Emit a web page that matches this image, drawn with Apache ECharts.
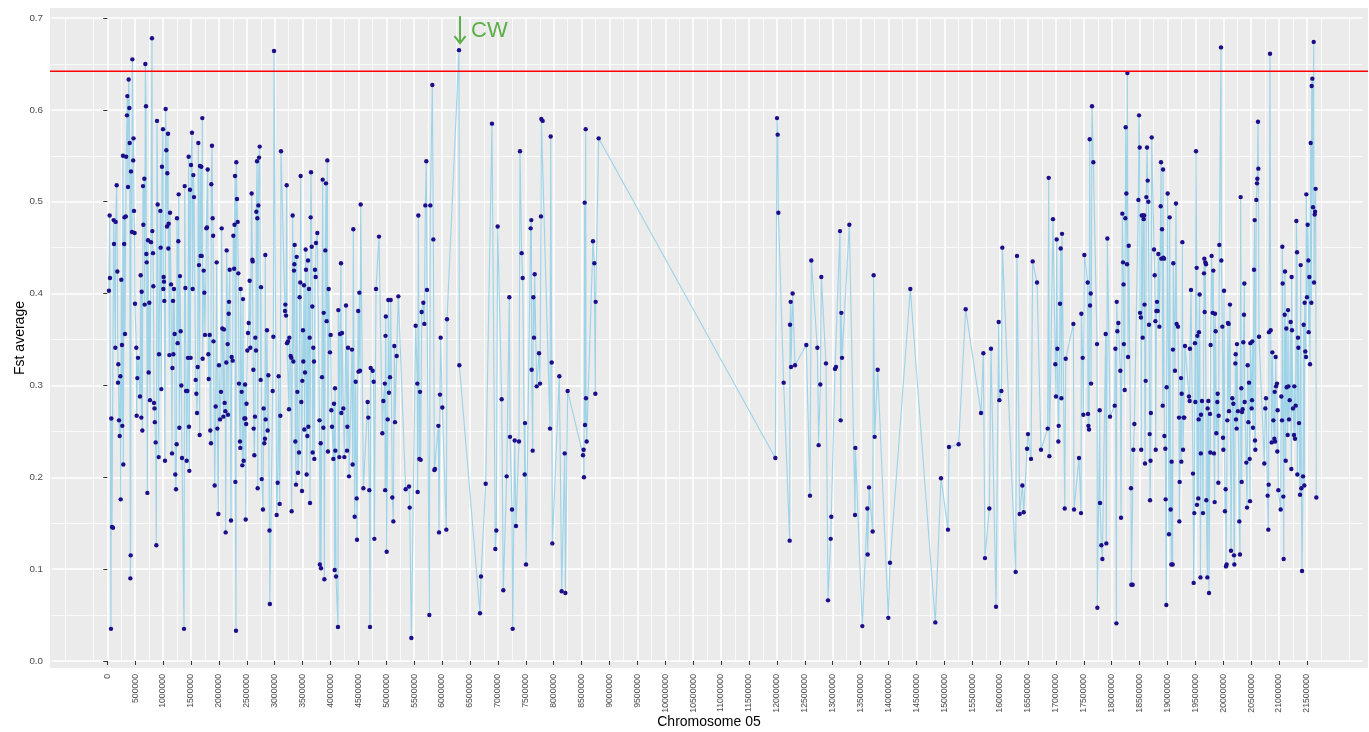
<!DOCTYPE html>
<html>
<head>
<meta charset="utf-8">
<script src="https://cdn.jsdelivr.net/npm/echarts@6/dist/echarts.min.js"></script>
<style>
  html, body { margin: 0; padding: 0; background: #ffffff; }
  #chart { width: 1369px; height: 732px; }
</style>
</head>
<body>
<div id="chart"></div>
<script>
// Windowed Fst average along chromosome 05: [position (bp), Fst average]
const fstSegment1 = [
  [30000,0.403],[42000,0.485],[48000,0.417],[66000,0.035],[72000,0.264],[84000,0.146],[102000,0.145],[114000,0.480],
  [120000,0.454],[144000,0.341],[150000,0.478],[168000,0.518],[180000,0.424],[192000,0.303],[198000,0.323],[210000,0.262],
  [222000,0.245],[234000,0.310],[240000,0.176],[251000,0.415],[263000,0.344],[269000,0.256],[281000,0.550],[287000,0.214],
  [302000,0.454],[308000,0.483],[317000,0.356],[332000,0.484],[338000,0.549],[353000,0.594],[359000,0.615],[371000,0.516],
  [383000,0.633],[395000,0.602],[401000,0.564],[413000,0.090],[419000,0.115],[425000,0.533],[443000,0.467],[449000,0.655],
  [464000,0.545],[470000,0.569],[478000,0.490],[490000,0.466],[496000,0.389],[520000,0.341],[526000,0.267],[538000,0.308],
  [550000,0.330],[586000,0.288],[598000,0.420],[610000,0.265],[616000,0.402],[628000,0.251],[640000,0.517],[646000,0.475],
  [664000,0.525],[670000,0.388],[682000,0.650],[694000,0.604],[700000,0.443],[706000,0.434],[718000,0.183],[730000,0.458],
  [741000,0.314],[753000,0.390],[765000,0.284],[783000,0.456],[801000,0.678],[807000,0.468],[819000,0.444],[825000,0.408],
  [837000,0.281],[846000,0.275],[852000,0.260],[867000,0.238],[879000,0.126],[891000,0.588],[903000,0.497],[921000,0.222],
  [927000,0.334],[951000,0.490],[956000,0.450],[968000,0.296],[980000,0.538],[998000,0.579],[1004000,0.405],[1010000,0.418],
  [1016000,0.413],[1022000,0.392],[1034000,0.218],[1046000,0.601],[1058000,0.556],[1070000,0.473],[1076000,0.531],[1088000,0.574],
  [1094000,0.449],[1100000,0.476],[1112000,0.333],[1124000,0.488],[1142000,0.410],[1160000,0.226],[1166000,0.319],[1178000,0.392],
  [1184000,0.334],[1195000,0.405],[1207000,0.356],[1219000,0.203],[1231000,0.187],[1243000,0.236],[1249000,0.482],[1261000,0.346],
  [1273000,0.457],[1279000,0.508],[1291000,0.254],[1303000,0.419],[1315000,0.359],[1327000,0.300],[1339000,0.221],[1375000,0.035],
  [1387000,0.517],[1399000,0.406],[1411000,0.294],[1423000,0.218],[1435000,0.294],[1446000,0.330],[1458000,0.549],[1464000,0.255],
  [1470000,0.207],[1482000,0.513],[1494000,0.330],[1500000,0.540],[1518000,0.575],[1530000,0.405],[1542000,0.529],[1554000,0.505]
];

const fstSegment2 = [
  [1584000,0.306],[1596000,0.291],[1608000,0.270],[1620000,0.320],[1631000,0.564],[1643000,0.431],[1655000,0.246],[1661000,0.539],
  [1673000,0.441],[1685000,0.538],[1691000,0.441],[1703000,0.591],[1709000,0.329],[1727000,0.425],[1739000,0.401],[1751000,0.355],
  [1775000,0.471],[1787000,0.472],[1799000,0.535],[1811000,0.334],[1817000,0.307],[1835000,0.355],[1846000,0.251],[1858000,0.237],
  [1864000,0.519],[1876000,0.561],[1888000,0.482],[1897000,0.463],[1903000,0.348],[1924000,0.191],[1942000,0.277],[1960000,0.434],
  [1972000,0.253],[1990000,0.160],[2002000,0.322],[2020000,0.263],[2038000,0.293],[2050000,0.471],[2062000,0.362],[2080000,0.266],
  [2091000,0.361],[2103000,0.281],[2115000,0.272],[2121000,0.140],[2133000,0.325],[2139000,0.447],[2157000,0.345],[2163000,0.268],
  [2175000,0.378],[2181000,0.391],[2193000,0.426],[2217000,0.153],[2229000,0.331],[2247000,0.327],[2259000,0.463],[2274000,0.427],
  [2280000,0.475],[2289000,0.528],[2295000,0.195],[2306000,0.033],[2312000,0.543],[2324000,0.503],[2336000,0.478],[2348000,0.422],
  [2360000,0.302],[2378000,0.239],[2384000,0.232],[2390000,0.405],[2408000,0.293],[2420000,0.213],[2432000,0.394],[2444000,0.218],
  [2456000,0.264],[2468000,0.301],[2474000,0.264],[2480000,0.154],[2489000,0.258],[2495000,0.280],[2510000,0.338],[2522000,0.357],
  [2534000,0.368],[2551000,0.414],[2563000,0.341],[2587000,0.509],[2599000,0.437],[2605000,0.435],[2617000,0.317],[2623000,0.253],
  [2635000,0.224],[2647000,0.266],[2653000,0.352],[2665000,0.338],[2671000,0.489],[2683000,0.544],[2689000,0.482],[2695000,0.188],
  [2707000,0.496],[2719000,0.548],[2731000,0.560],[2749000,0.306],[2755000,0.407],[2767000,0.198],[2790000,0.165],[2802000,0.275],
  [2814000,0.237],[2826000,0.242],[2832000,0.442],[2838000,0.263],[2862000,0.360],[2874000,0.251],[2886000,0.311],[2907000,0.142],
  [2913000,0.062],[2964000,0.294],[2976000,0.353],[2988000,0.664],[3035000,0.159],[3053000,0.194],[3071000,0.310],[3089000,0.171],
  [3101000,0.267],[3113000,0.555],[3185000,0.381],[3191000,0.388],[3203000,0.376],[3215000,0.518],[3221000,0.346],[3238000,0.348],
  [3256000,0.274],[3262000,0.352]
];

const fstSegment3 = [
  [3286000,0.332],[3298000,0.330],[3304000,0.163],[3322000,0.485],[3334000,0.326],[3346000,0.425],[3352000,0.432],[3358000,0.453],
  [3370000,0.239],[3382000,0.192],[3394000,0.440],[3406000,0.293],[3418000,0.205],[3436000,0.227],[3447000,0.396],[3459000,0.412],
  [3465000,0.528],[3477000,0.282],[3489000,0.185],[3495000,0.305],[3507000,0.360],[3513000,0.326],[3525000,0.409],[3531000,0.252],
  [3543000,0.314],[3555000,0.448],[3561000,0.426],[3573000,0.203],[3585000,0.245],[3597000,0.436],[3603000,0.255],[3615000,0.405],
  [3627000,0.352],[3633000,0.172],[3645000,0.483],[3651000,0.532],[3663000,0.451],[3674000,0.386],[3680000,0.227],[3692000,0.341],
  [3704000,0.326],[3710000,0.220],[3722000,0.426],[3734000,0.418],[3740000,0.455],[3764000,0.466],[3803000,0.262],[3809000,0.105],
  [3824000,0.237],[3830000,0.101],[3848000,0.309],[3860000,0.524],[3872000,0.254],[3878000,0.379],[3890000,0.089],[3907000,0.447],
  [3919000,0.520],[3931000,0.370],[3943000,0.545],[3955000,0.228],[3967000,0.405],[3991000,0.336],[4003000,0.355],[4015000,0.273],
  [4027000,0.255],[4051000,0.220],[4063000,0.280],[4075000,0.099],[4081000,0.297],[4087000,0.229],[4099000,0.092],[4134000,0.037],
  [4140000,0.382],[4158000,0.222],[4170000,0.356],[4188000,0.433],[4194000,0.270],[4206000,0.357],[4230000,0.275],[4248000,0.222],
  [4278000,0.387],[4296000,0.229],[4302000,0.255],[4314000,0.341],[4332000,0.201],[4385000,0.339],[4397000,0.214],[4409000,0.470],
  [4433000,0.157],[4451000,0.304],[4469000,0.177],[4475000,0.132],[4496000,0.381],[4502000,0.315],[4517000,0.401],[4529000,0.316],
  [4541000,0.497],[4589000,0.188],[4666000,0.282],[4678000,0.265],[4696000,0.186],[4708000,0.037],[4720000,0.319],[4756000,0.316],
  [4774000,0.304],[4786000,0.133],[4816000,0.405],[4869000,0.462],[4929000,0.248],[4947000,0.283]
];

const fstSegment4 = [
  [4974000,0.302],[4980000,0.186],[4986000,0.354],[4992000,0.375],[5007000,0.119],[5025000,0.263],[5036000,0.393],[5048000,0.292],
  [5066000,0.309],[5078000,0.393],[5108000,0.178],[5126000,0.152],[5144000,0.343],[5156000,0.260],[5186000,0.332],[5216000,0.397],
  [5347000,0.187],[5407000,0.190],[5419000,0.167],[5449000,0.025],[5526000,0.365],[5556000,0.302],[5562000,0.184],[5574000,0.485],
  [5592000,0.220],[5604000,0.293],[5616000,0.219],[5634000,0.380],[5664000,0.390],[5682000,0.367],[5700000,0.496],[5717000,0.544],
  [5729000,0.404],[5771000,0.050],[5789000,0.496],[5825000,0.627],[5843000,0.459],[5861000,0.208],[5873000,0.209],[5933000,0.256],
  [5945000,0.140],[5962000,0.290],[5974000,0.352],[6004000,0.276],[6076000,0.143],[6088000,0.372],[6303000,0.665],[6309000,0.322],
  [6679000,0.052],[6697000,0.092],[6781000,0.193],[6894000,0.585],[6954000,0.122],[6972000,0.142],[6996000,0.473],[7068000,0.285],
  [7097000,0.077],[7157000,0.201],[7205000,0.396],[7217000,0.244],[7253000,0.165],[7265000,0.035],[7301000,0.240],[7324000,0.147],
  [7378000,0.239],[7396000,0.555],[7426000,0.444],[7444000,0.417],[7480000,0.203],[7486000,0.259],[7504000,0.105],[7587000,0.471],
  [7599000,0.480],[7605000,0.317],[7623000,0.229],[7635000,0.396],[7647000,0.352],[7659000,0.421],[7695000,0.299],[7737000,0.335],
  [7755000,0.302],[7772000,0.484],[7778000,0.590],[7802000,0.588],[7934000,0.253],[7946000,0.571],[7964000,0.325],[7976000,0.128],
  [8101000,0.310],[8143000,0.076],[8197000,0.226],[8209000,0.074],[8250000,0.294],[8525000,0.224],[8537000,0.230],[8543000,0.200],
  [8555000,0.499],[8561000,0.257],[8573000,0.579],[8579000,0.286],[8591000,0.239],[8704000,0.457],[8728000,0.433],[8746000,0.291],
  [8752000,0.391],[8806000,0.569]
];

const fstSegment5 = [
  [11972000,0.221],[12002000,0.591],[12014000,0.573],[12026000,0.488],[12121000,0.303],[12229000,0.131],[12235000,0.366],[12247000,0.391],
  [12253000,0.320],[12282000,0.400],[12324000,0.322],[12527000,0.344],[12593000,0.180],[12617000,0.436],[12725000,0.341],[12748000,0.235],
  [12778000,0.301],[12796000,0.418],[12880000,0.324],[12916000,0.066],[12964000,0.133],[12975000,0.157],[13041000,0.318],[13059000,0.320],
  [13131000,0.468],[13143000,0.262],[13155000,0.379],[13167000,0.330],[13298000,0.475],[13400000,0.159],[13406000,0.232],[13531000,0.038],
  [13621000,0.166],[13627000,0.116],[13651000,0.189],[13716000,0.141],[13734000,0.420],[13752000,0.244],[13806000,0.317],[13997000,0.047],
  [14027000,0.107],[14391000,0.405],[14839000,0.042],[14941000,0.199],[15066000,0.143],[15084000,0.233],[15257000,0.236],[15383000,0.383],
  [15658000,0.270],[15700000,0.335],[15729000,0.112],[15807000,0.166],[15837000,0.340],[15927000,0.059],[15975000,0.369],[15987000,0.284],
  [16023000,0.294],[16040000,0.450],[16279000,0.097],[16303000,0.441],[16351000,0.160],[16399000,0.191],[16423000,0.162],[16483000,0.231],
  [16500000,0.247],[16554000,0.220],[16584000,0.435],[16662000,0.412],[16733000,0.230],[16853000,0.253],[16871000,0.526],[16883000,0.223],
  [16948000,0.481],[16990000,0.323],[17002000,0.288],[17014000,0.459],[17026000,0.340],[17044000,0.239],[17050000,0.256],[17074000,0.389],
  [17086000,0.449],[17098000,0.286],[17110000,0.465],[17158000,0.166],[17176000,0.329],[17313000,0.367],[17325000,0.165],[17414000,0.221],
  [17450000,0.161],[17456000,0.378],[17480000,0.330],[17492000,0.268],[17510000,0.442]
];

const fstSegment6 = [
  [17570000,0.412],[17576000,0.269],[17582000,0.256],[17594000,0.252],[17606000,0.568],[17612000,0.387],[17624000,0.400],[17630000,0.302],
  [17647000,0.604],[17671000,0.543],[17737000,0.345],[17743000,0.058],[17785000,0.273],[17791000,0.172],[17815000,0.126],[17833000,0.111],
  [17892000,0.356],[17904000,0.128],[17922000,0.460],[17970000,0.266],[18054000,0.278],[18066000,0.340],[18084000,0.041],[18090000,0.391],
  [18101000,0.359],[18119000,0.368],[18155000,0.316],[18167000,0.156],[18191000,0.487],[18203000,0.434],[18212000,0.410],[18218000,0.345],
  [18233000,0.295],[18245000,0.482],[18251000,0.581],[18263000,0.509],[18275000,0.432],[18281000,0.640],[18293000,0.331],[18305000,0.452],
  [18346000,0.188],[18352000,0.083],[18376000,0.083],[18388000,0.230],[18406000,0.258],[18478000,0.502],[18490000,0.594],[18502000,0.559],
  [18508000,0.379],[18523000,0.374],[18529000,0.230],[18538000,0.485],[18555000,0.352],[18567000,0.485],[18573000,0.481],[18582000,0.485],
  [18588000,0.388],[18597000,0.215],[18609000,0.305],[18621000,0.505],[18633000,0.559],[18645000,0.523],[18657000,0.500],[18669000,0.366],
  [18681000,0.247],[18687000,0.175],[18696000,0.218],[18702000,0.270],[18717000,0.570],[18759000,0.448],[18771000,0.420],[18783000,0.370],
  [18789000,0.230],[18801000,0.381],[18812000,0.391],[18824000,0.381],[18836000,0.443],[18854000,0.364],[18878000,0.495],[18884000,0.543],
  [18890000,0.438],[18902000,0.470],[18914000,0.278],[18920000,0.535],[18926000,0.439],[18938000,0.438],[18944000,0.245]
];

const fstSegment7 = [
  [18961000,0.231],[18967000,0.176],[18979000,0.061],[18985000,0.298],[19003000,0.509],[19027000,0.138],[19039000,0.483],[19057000,0.165],
  [19069000,0.105],[19074000,0.217],[19092000,0.105],[19098000,0.339],[19104000,0.433],[19134000,0.316],[19152000,0.498],[19164000,0.367],
  [19188000,0.364],[19206000,0.265],[19212000,0.152],[19218000,0.195],[19242000,0.308],[19248000,0.217],[19254000,0.291],[19266000,0.456],
  [19278000,0.230],[19290000,0.265],[19301000,0.265],[19313000,0.343],[19385000,0.288],[19397000,0.283],[19403000,0.340],[19421000,0.404],
  [19457000,0.204],[19469000,0.085],[19481000,0.161],[19493000,0.346],[19499000,0.282],[19511000,0.555],[19523000,0.428],[19529000,0.170],
  [19535000,0.354],[19552000,0.177],[19558000,0.263],[19564000,0.358],[19576000,0.399],[19591000,0.091],[19597000,0.226],[19600000,0.268],
  [19618000,0.283],[19636000,0.161],[19654000,0.422],[19660000,0.438],[19666000,0.380],[19678000,0.434],[19690000,0.432],[19696000,0.175],
  [19714000,0.091],[19720000,0.275],[19732000,0.283],[19744000,0.074],[19762000,0.269],[19768000,0.227],[19773000,0.344],[19791000,0.441],
  [19809000,0.379],[19821000,0.425],[19833000,0.226],[19845000,0.173],[19851000,0.378],[19863000,0.359],[19875000,0.248],[19893000,0.282],
  [19899000,0.291],[19911000,0.194],[19917000,0.267],[19929000,0.453],[19959000,0.668],[19965000,0.436],[19983000,0.364],[19995000,0.243],
  [20001000,0.230],[20013000,0.403],[20030000,0.163],[20042000,0.187],[20048000,0.103],[20060000,0.105],[20072000,0.262],[20084000,0.368],
  [20096000,0.367],[20102000,0.272],[20120000,0.388],[20138000,0.120],[20162000,0.286],[20180000,0.280],[20192000,0.115],[20198000,0.105],
  [20216000,0.324],[20222000,0.334],[20228000,0.263],[20239000,0.253],[20245000,0.345],[20263000,0.272],[20287000,0.152],[20299000,0.116],
  [20311000,0.505],[20323000,0.297],[20329000,0.195],[20335000,0.271],[20347000,0.274],[20359000,0.347],[20371000,0.377],[20377000,0.411],
  [20383000,0.282]
];

const fstSegment8 = [
  [20413000,0.216],[20425000,0.167],[20437000,0.322],[20449000,0.260],[20461000,0.303],[20473000,0.220],[20479000,0.174],[20485000,0.346],
  [20508000,0.275],[20514000,0.284],[20520000,0.348],[20532000,0.254],[20550000,0.426],[20562000,0.480],[20568000,0.240],[20574000,0.230],
  [20592000,0.502],[20604000,0.520],[20610000,0.525],[20622000,0.587],[20628000,0.536],[20640000,0.353],[20735000,0.215],[20753000,0.275],
  [20765000,0.286],[20795000,0.180],[20807000,0.143],[20813000,0.192],[20819000,0.358],[20837000,0.661],[20849000,0.360],[20867000,0.238],
  [20879000,0.336],[20897000,0.262],[20915000,0.242],[20921000,0.293],[20927000,0.239],[20939000,0.331],[20945000,0.299],[20962000,0.302],
  [20968000,0.228],[20974000,0.273],[20986000,0.186],[21028000,0.165],[21040000,0.288],[21052000,0.262],[21058000,0.451],[21064000,0.411],
  [21076000,0.179],[21082000,0.111],[21100000,0.377],[21106000,0.424],[21118000,0.218],[21130000,0.362],[21136000,0.298],[21154000,0.246],
  [21160000,0.382],[21166000,0.299],[21178000,0.263],[21190000,0.284],[21207000,0.369],[21219000,0.209],[21225000,0.418],[21231000,0.360],
  [21249000,0.275],[21267000,0.246],[21273000,0.299],[21285000,0.242],[21297000,0.278],[21309000,0.479],[21321000,0.445],[21327000,0.203],
  [21339000,0.352],[21345000,0.341],[21357000,0.259],[21375000,0.181],[21387000,0.431],[21399000,0.188],[21411000,0.098],[21429000,0.201],
  [21440000,0.366],[21452000,0.191],[21458000,0.390],[21470000,0.337],[21482000,0.331],[21488000,0.508],[21500000,0.396],[21512000,0.475],
  [21524000,0.436],[21530000,0.358],[21542000,0.418],[21554000,0.323],[21566000,0.564],[21578000,0.390],[21584000,0.626],[21596000,0.634],
  [21608000,0.494],[21620000,0.674],[21626000,0.412],[21638000,0.486],[21644000,0.489],[21655000,0.514],[21667000,0.178]
];

// Significance threshold drawn as a horizontal rule
const fstThreshold = 0.642;

// Labelled window (CW)
const cwWindow = [6303000, 0.665];

// Tick positions shown on the x axis (bp) and y axis
const xTickValues = [
  0, 500000, 1000000, 1500000, 2000000, 2500000, 3000000, 3500000, 4000000, 4500000, 5000000,
  5500000, 6000000, 6500000, 7000000, 7500000, 8000000, 8500000, 9000000, 9500000, 10000000,
  10500000, 11000000, 11500000, 12000000, 12500000, 13000000, 13500000, 14000000, 14500000,
  15000000, 15500000, 16000000, 16500000, 17000000, 17500000, 18000000, 18500000, 19000000,
  19500000, 20000000, 20500000, 21000000, 21500000
];
const yTickValues = [0, 0.1, 0.2, 0.3, 0.4, 0.5, 0.6, 0.7];

const fstPoints = [].concat(fstSegment1, fstSegment2, fstSegment3, fstSegment4,
                            fstSegment5, fstSegment6, fstSegment7, fstSegment8);

const FONT = '"Liberation Sans", Arial, Helvetica, sans-serif';
const PANEL = { left: 50, top: 8, right: 1368, bottom: 668 };
const GREEN = '#5AAF46';

const chart = echarts.init(document.getElementById('chart'), null, { renderer: 'canvas' });

const baseGraphic = [
  {
    type: 'rect', z: -100, silent: true,
    shape: { x: PANEL.left, y: PANEL.top, width: PANEL.right - PANEL.left, height: PANEL.bottom - PANEL.top },
    style: { fill: '#EBEBEB' }
  },
  {
    type: 'text', silent: true,
    x: 20, y: (PANEL.top + PANEL.bottom) / 2, rotation: Math.PI / 2,
    style: { text: 'Fst average', font: '14px ' + FONT, fill: '#000000', align: 'center', verticalAlign: 'middle' }
  },
  {
    type: 'text', silent: true,
    x: (PANEL.left + PANEL.right) / 2, y: 722,
    style: { text: 'Chromosome 05', font: '14px ' + FONT, fill: '#000000', align: 'center', verticalAlign: 'middle' }
  }
];

const option = {
  animation: false,
  backgroundColor: '#ffffff',
  grid: {
    left: 51.5, right: 6.2, top: 18, bottom: 71,
    show: true, backgroundColor: '#EBEBEB', borderWidth: 0, containLabel: false
  },
  xAxis: {
    type: 'value',
    min: -1000000, max: 22500000, interval: 500000,
    offset: 7,
    axisLine: { show: false },
    axisTick: { show: true, customValues: xTickValues, length: 4, lineStyle: { color: '#333333', width: 1 } },
    axisLabel: {
      customValues: xTickValues, rotate: 90, margin: 6,
      fontFamily: FONT, fontSize: 8.7, color: '#4D4D4D',
      formatter: v => String(v)
    },
    splitLine: { show: true, lineStyle: { color: '#FFFFFF', width: 1.5 } },
    minorTick: { show: false, splitNumber: 2 },
    minorSplitLine: { show: true, lineStyle: { color: '#FFFFFF', width: 0.75 } }
  },
  yAxis: {
    type: 'value',
    min: 0, max: 0.7, interval: 0.1,
    offset: 1.5,
    axisLine: { show: false },
    axisTick: { show: true, length: 4, lineStyle: { color: '#333333', width: 1 } },
    axisLabel: {
      customValues: yTickValues, margin: 7,
      fontFamily: FONT, fontSize: 9.8, color: '#4D4D4D',
      formatter: v => v.toFixed(1)
    },
    splitLine: { show: true, lineStyle: { color: '#FFFFFF', width: 1.5 } },
    minorTick: { show: false, splitNumber: 2 },
    minorSplitLine: { show: true, lineStyle: { color: '#FFFFFF', width: 0.75 } }
  },
  series: [
    {
      name: 'Fst average',
      type: 'line',
      data: fstPoints,
      showSymbol: true,
      showAllSymbol: true,
      symbol: 'circle',
      symbolSize: 4.4,
      itemStyle: { color: '#1C0E8A' },
      lineStyle: { color: '#9FD3E8', width: 1.15 },
      emphasis: { disabled: true },
      z: 3
    }
  ],
  graphic: baseGraphic
};

chart.setOption(option);

// Threshold rule across the whole panel, and the arrow + label above the CW window,
// both placed from data coordinates
const thrY = chart.convertToPixel({ yAxisIndex: 0 }, fstThreshold);
const cwPx = chart.convertToPixel({ gridIndex: 0 }, cwWindow);
const ax = cwPx[0] + 1;
const tipY = cwPx[1] - 7;
chart.setOption({
  graphic: baseGraphic.concat([
    {
      type: 'rect', silent: true, z: 10,
      shape: { x: PANEL.left, y: thrY - 0.75, width: PANEL.right - PANEL.left, height: 1.5 },
      style: { fill: '#FF0000' }
    },
    {
      type: 'line', silent: true,
      shape: { x1: ax, y1: tipY - 27, x2: ax, y2: tipY },
      style: { stroke: GREEN, lineWidth: 2 }
    },
    {
      type: 'polyline', silent: true,
      shape: { points: [[ax - 5.5, tipY - 7], [ax, tipY], [ax + 5.5, tipY - 7]] },
      style: { stroke: GREEN, lineWidth: 2, fill: null }
    },
    {
      type: 'text', silent: true,
      x: ax + 11, y: tipY - 12,
      style: { text: 'CW', font: '22px ' + FONT, fill: GREEN, align: 'left', verticalAlign: 'middle' }
    }
  ])
}, { replaceMerge: ['graphic'] });
</script>
</body>
</html>
